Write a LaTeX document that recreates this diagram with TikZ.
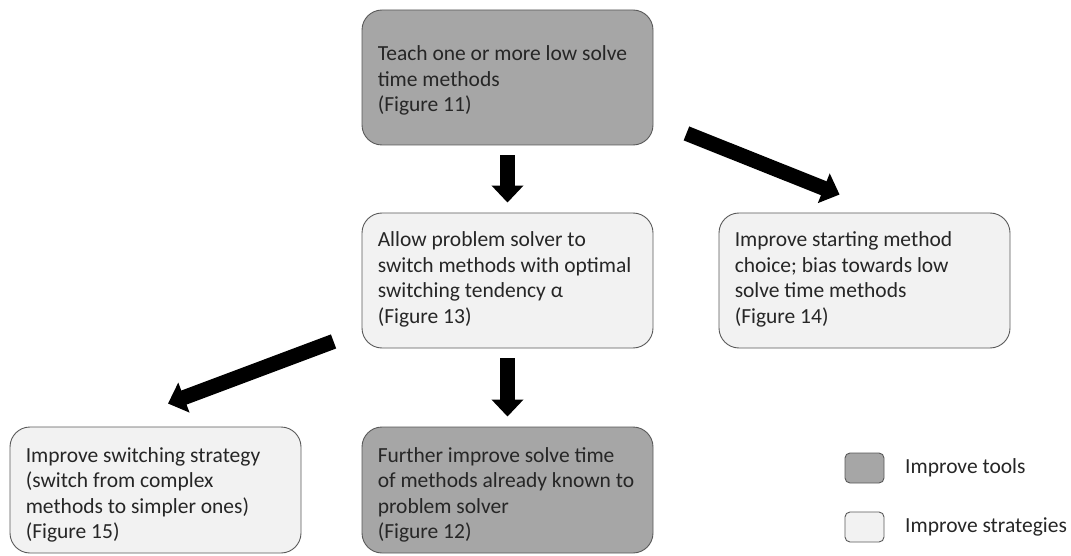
\documentclass[tikz,border=0pt]{standalone}
\usepackage{fontspec}
\setmainfont{Carlito}
\usetikzlibrary{arrows.meta,calc}
\definecolor{toolfill}{HTML}{A6A6A6}
\definecolor{stratfill}{HTML}{F2F2F2}
\definecolor{edgegray}{HTML}{595959}
\definecolor{ink}{HTML}{262626}

\begin{document}
\begin{tikzpicture}[x=1pt,y=-1pt,
  box/.style={draw=edgegray, line width=0.9pt, rounded corners=20pt,
    minimum width=291pt, minimum height=135pt, inner sep=0pt},
  lowbox/.style={box, minimum height=126pt},
  tool/.style={fill=toolfill},
  strat/.style={fill=stratfill},
  txt/.style={anchor=west, align=left, inner sep=0pt, text=ink,
    font=\fontsize{21.5}{25.5}\selectfont},
  key/.style={draw=edgegray, line width=0.9pt, rounded corners=5pt,
    minimum width=39pt, minimum height=30pt, inner sep=0pt},
  bigarrow/.style={line width=15pt, black,
    -{Triangle[length=17pt,width=31pt]}}
]
\useasboundingbox (0,0) rectangle (1071,556);

% boxes
\node[box, tool]  (top)   at (507.5, 77.5) {};
\node[box, strat] (mid)   at (507.5,280.5) {};
\node[box, strat] (right) at (864.5,280.5) {};
\node[lowbox, strat] (bl) at (155.5,490) {};
\node[lowbox, tool]  (bm) at (507.5,490) {};

% box texts
\node[txt] (topT) at ($(top.west)+(16,3)$)
  {Teach one or more low solve\\time methods\\(Figure 11)};
\node[txt] (midT) at ($(mid.west)+(16,-1)$)
  {Allow problem solver to\\switch methods with optimal\\switching tendency α\\(Figure 13)};
\node[txt] (rightT) at ($(right.west)+(16,-1)$)
  {Improve starting method\\choice; bias towards low\\solve time methods\\(Figure 14)};
\node[txt] (blT) at ($(bl.west)+(16,5)$)
  {Improve switching strategy\\(switch from complex\\methods to simpler ones)\\(Figure 15)};
\node[txt] (bmT) at ($(bm.west)+(16,5)$)
  {Further improve solve time\\of methods already known to\\problem solver\\(Figure 12)};

% arrows
\draw[bigarrow, shorten <=10pt, shorten >=10pt] (top.south) -- (mid.north);
\draw[bigarrow, shorten <=10pt, shorten >=10pt] (mid.south) -- (bm.north);

\coordinate (trTail) at ($(top.south east)+(33,-12)$);
\coordinate (trTip)  at ($(right.north west)+(121,-18)$);
\draw[bigarrow] (trTail) -- (trTip);

\coordinate (blTail) at ($(mid.south west)+(-28,-7)$);
\coordinate (blTip)  at ($(bl.north)+(12.5,-23)$);
\draw[bigarrow] (blTail) -- (blTip);

% legend
\node[key, tool]  (keyTool)  at (864.5,468) {};
\node[key, strat] (keyStrat) at (864.5,527) {};
\node[txt] (keyToolT)  at (905,468) {Improve tools};
\node[txt] (keyStratT) at (905,527) {Improve strategies};
\end{tikzpicture}
\end{document}
